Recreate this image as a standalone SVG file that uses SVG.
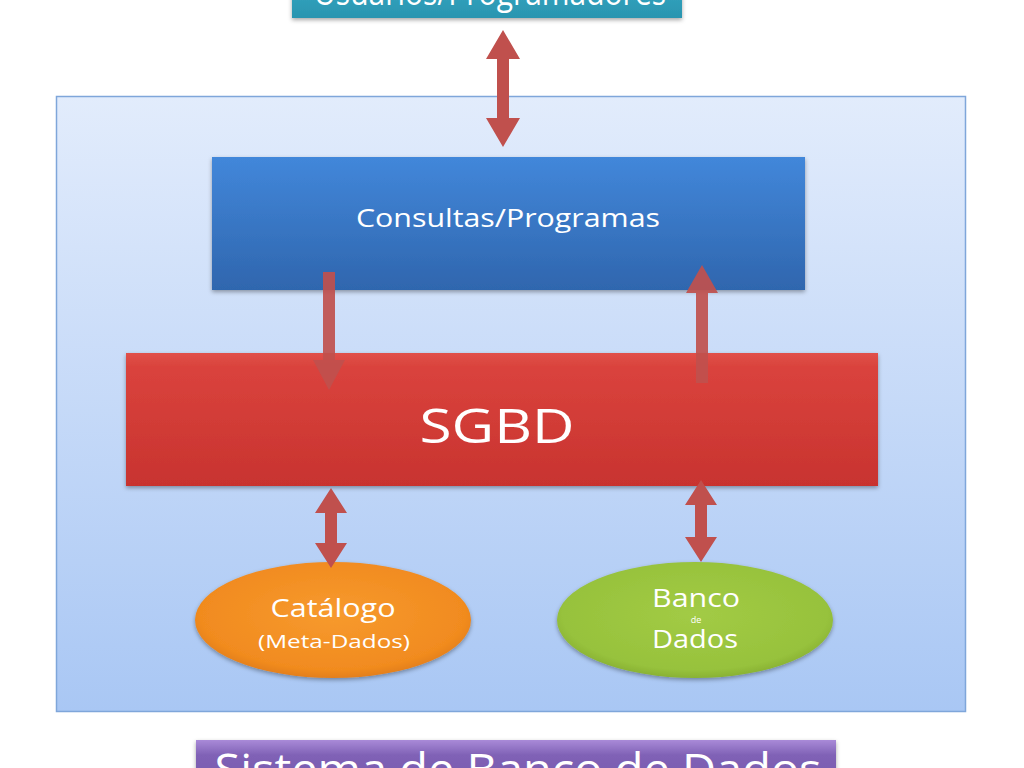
<svg xmlns="http://www.w3.org/2000/svg" width="1024" height="768" viewBox="0 0 1024 768">
<defs>
<linearGradient id="gCont" x1="0" y1="0" x2="0" y2="1"><stop offset="0" stop-color="#e2ecfc"/><stop offset="1" stop-color="#a9c7f4"/></linearGradient>
<linearGradient id="gBlue" x1="0" y1="0" x2="0" y2="1"><stop offset="0" stop-color="#4287da"/><stop offset="1" stop-color="#2f66ae"/></linearGradient>
<linearGradient id="gRed" x1="0" y1="0" x2="0" y2="1"><stop offset="0" stop-color="#e0504a"/><stop offset="0.1" stop-color="#da433d"/><stop offset="1" stop-color="#c8332f"/></linearGradient>
<linearGradient id="gTeal" x1="0" y1="0" x2="0" y2="1"><stop offset="0" stop-color="#3cb0cc"/><stop offset="1" stop-color="#2a95b0"/></linearGradient>
<linearGradient id="gPurple" x1="0" y1="0" x2="0" y2="1"><stop offset="0" stop-color="#a98ad8"/><stop offset="0.25" stop-color="#8062b6"/><stop offset="1" stop-color="#7253a8"/></linearGradient>
<radialGradient id="gOrange" cx="0.5" cy="0.45" r="0.6"><stop offset="0" stop-color="#f79a2e"/><stop offset="0.8" stop-color="#f18b1f"/><stop offset="1" stop-color="#d9761a"/></radialGradient>
<radialGradient id="gGreen" cx="0.5" cy="0.45" r="0.6"><stop offset="0" stop-color="#a2cb45"/><stop offset="0.8" stop-color="#97c23c"/><stop offset="1" stop-color="#7fa62e"/></radialGradient>
<filter id="sh" x="-10%" y="-10%" width="120%" height="130%"><feDropShadow dx="0" dy="2" stdDeviation="2" flood-color="#000" flood-opacity="0.35"/></filter>
</defs>
<style>
.t{font-family:"Open Sans","Liberation Sans",sans-serif;fill:#ffffff;text-anchor:middle}
.arr{fill:#c0504d}
</style>
<g id="top"><rect x="292" y="-40" width="390" height="58" fill="url(#gTeal)" filter="url(#sh)"/><text class="t" x="490" y="5" font-size="34" textLength="352" lengthAdjust="spacingAndGlyphs">Usuários/Programadores</text></g>
<g id="container"><rect x="56.5" y="96.5" width="909" height="615" fill="url(#gCont)" stroke="#7fa6da" stroke-width="1.5"/></g>
<g id="consultas"><rect x="212" y="157" width="593" height="133" fill="url(#gBlue)" filter="url(#sh)"/><text class="t" x="508" y="227" font-size="25" textLength="304" lengthAdjust="spacingAndGlyphs">Consultas/Programas</text></g>
<g id="sgbd"><rect x="126" y="353" width="752" height="133" fill="url(#gRed)" filter="url(#sh)"/><text class="t" x="497" y="443" font-size="48" textLength="155" lengthAdjust="spacingAndGlyphs">SGBD</text></g>
<g id="catalogo"><ellipse cx="333" cy="620" rx="138" ry="58" fill="url(#gOrange)" filter="url(#sh)"/><text class="t" x="333" y="617" font-size="25" textLength="125" lengthAdjust="spacingAndGlyphs">Catálogo</text><text class="t" x="334" y="648" font-size="18" textLength="152" lengthAdjust="spacingAndGlyphs">(Meta-Dados)</text></g>
<g id="banco"><ellipse cx="695" cy="620" rx="138" ry="58" fill="url(#gGreen)" filter="url(#sh)"/><text class="t" x="696" y="607" font-size="25" textLength="88" lengthAdjust="spacingAndGlyphs">Banco</text><text class="t" x="696" y="623" font-size="9">de</text><text class="t" x="695" y="648" font-size="25" textLength="86" lengthAdjust="spacingAndGlyphs">Dados</text></g>
<g id="bottom"><rect x="196" y="740" width="640" height="60" fill="url(#gPurple)" filter="url(#sh)"/><text class="t" x="518" y="785" font-size="44" textLength="607" lengthAdjust="spacingAndGlyphs">Sistema de Banco de Dados</text></g>
<g id="connectors">
<path class="arr" d="M503 30 L520 59 L509 59 L509 118 L520 118 L503 147 L486 118 L497 118 L497 59 L486 59 Z"/>
<path class="arr" d="M323 272 L335 272 L335 360 L345 360 L329 390 L313 360 L323 360 Z" opacity="0.92"/>
<path class="arr" d="M696 383 L708 383 L708 293 L718 293 L702 265 L686 293 L696 293 Z" opacity="0.92"/>
<path class="arr" d="M331 488 L347 513 L337 513 L337 543 L347 543 L331 568 L315 543 L325 543 L325 513 L315 513 Z"/>
<path class="arr" d="M701 480 L717 505 L707 505 L707 537 L717 537 L701 562 L685 537 L695 537 L695 505 L685 505 Z"/>
</g>
</svg>
